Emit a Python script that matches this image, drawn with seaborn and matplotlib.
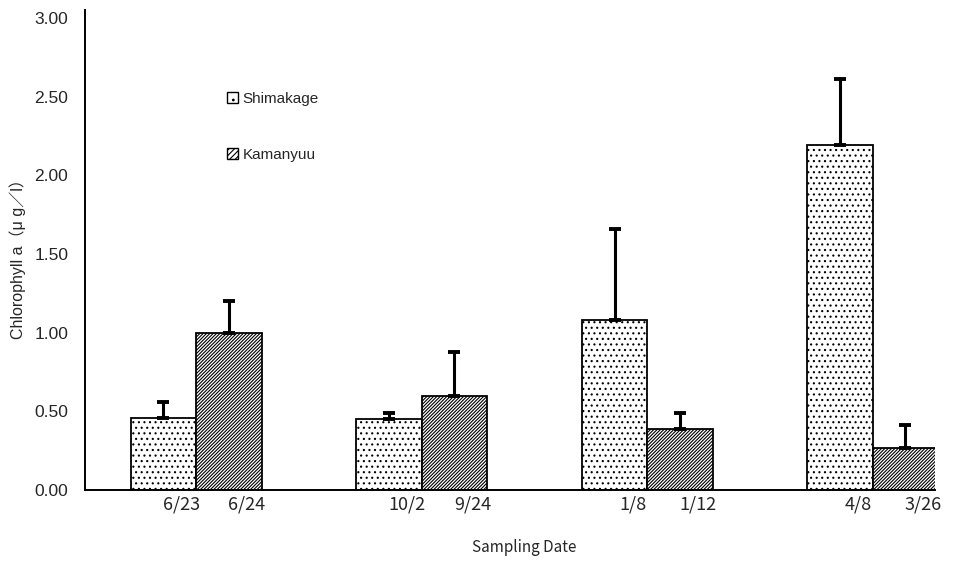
import numpy as np
import pandas as pd
import matplotlib
matplotlib.use("Agg")
import matplotlib.pyplot as plt
import seaborn as sns
from matplotlib.patches import Patch
from matplotlib.container import BarContainer

# ---- data ----
groups = ["G1", "G2", "G3", "G4"]
shim_dates = ["6/23", "10/2", "1/8", "4/8"]
kama_dates = ["6/24", "9/24", "1/12", "3/26"]
shim_vals = [0.46, 0.45, 1.08, 2.19]
shim_top = [0.56, 0.49, 1.66, 2.61]
kama_vals = [1.00, 0.60, 0.39, 0.27]
kama_top = [1.20, 0.88, 0.49, 0.41]
series = ["Shimakage", "Kamanyuu"]
yticks = [0.0, 0.5, 1.0, 1.5, 2.0, 2.5, 3.0]

df = pd.DataFrame({
    "group": groups * 2,
    "site": [series[0]] * 4 + [series[1]] * 4,
    "value": shim_vals + kama_vals,
})

sns.set_style("white")
plt.rcParams["hatch.linewidth"] = 0.8
plt.rcParams["font.family"] = ["Noto Sans CJK JP", "DejaVu Sans"]

fig = plt.figure(figsize=(9.57, 5.62), dpi=100)
ax = fig.add_axes([85 / 957, 1 - 490 / 562, (935 - 85) / 957, (490 - 10) / 562])

sns.barplot(data=df, x="group", y="value", hue="site", order=groups,
            hue_order=series, width=0.58, errorbar=None, ax=ax,
            palette=["white", "white"], edgecolor="black", linewidth=1.3,
            legend=False)

hatches = ["...", "//////////"]
tops = [shim_top, kama_top]
vals = [shim_vals, kama_vals]
labels = [shim_dates, kama_dates]
bar_conts = [c for c in ax.containers if isinstance(c, BarContainer)]
for ci, cont in enumerate(bar_conts):
    xs = []
    for p in cont.patches:
        p.set_hatch(hatches[ci])
        p.set_facecolor("white")
        p.set_edgecolor("black")
        xs.append(p.get_x() + p.get_width() / 2)
    xs = np.array(xs)
    v = np.array(vals[ci])
    t = np.array(tops[ci])
    ax.errorbar(xs, v, yerr=[np.zeros_like(v), t - v], fmt="none",
                ecolor="black", elinewidth=2.2, capsize=4, capthick=2.8,
                zorder=3)
    for x, lab in zip(xs, labels[ci]):
        ax.text(x + 0.08, -0.035, lab, ha="center", va="top", fontsize=13,
                family=["Noto Sans CJK JP", "DejaVu Sans"])

ax.set_ylim(0, 3.05)
ax.set_xlim(-0.493, 3.276)
ax.set_yticks(yticks)
ax.set_yticklabels([f"{t:.2f}" for t in yticks], fontsize=12.5,
                   family=["Liberation Sans", "DejaVu Sans"])
ax.set_xticks([])
ax.tick_params(axis="y", length=0, pad=12)
for s in ["top", "right"]:
    ax.spines[s].set_visible(False)
for s in ["left", "bottom"]:
    ax.spines[s].set_color("black")
    ax.spines[s].set_linewidth(1.4)

ax.set_xlabel("")
ax.set_ylabel("")
fig.text(18 / 957, 1 - 255 / 562, "Chlorophyll a（μ g／l）", rotation=90,
         ha="center", va="center", fontsize=11.5,
         family=["Liberation Sans", "Noto Sans CJK JP", "DejaVu Sans"])
fig.text(472 / 957, 1 - 548 / 562, "Sampling Date", ha="left",
         va="center", fontsize=11,
         family=["Noto Sans CJK JP", "DejaVu Sans"])

handles = [Patch(facecolor="white", edgecolor="black", hatch="..",
                 label=series[0]),
           Patch(facecolor="white", edgecolor="black", hatch="//////",
                 label=series[1])]
fig.legend(handles=handles, loc="upper left",
           bbox_to_anchor=(227 / 957, 1 - 92 / 562),
           bbox_transform=fig.transFigure, frameon=False,
           handlelength=0.75, handleheight=0.75, handletextpad=0.25,
           labelspacing=2.75, borderpad=0, borderaxespad=0,
           prop={"family": ["Liberation Sans", "DejaVu Sans"], "size": 11})

fig.savefig("out.png", dpi=100)
